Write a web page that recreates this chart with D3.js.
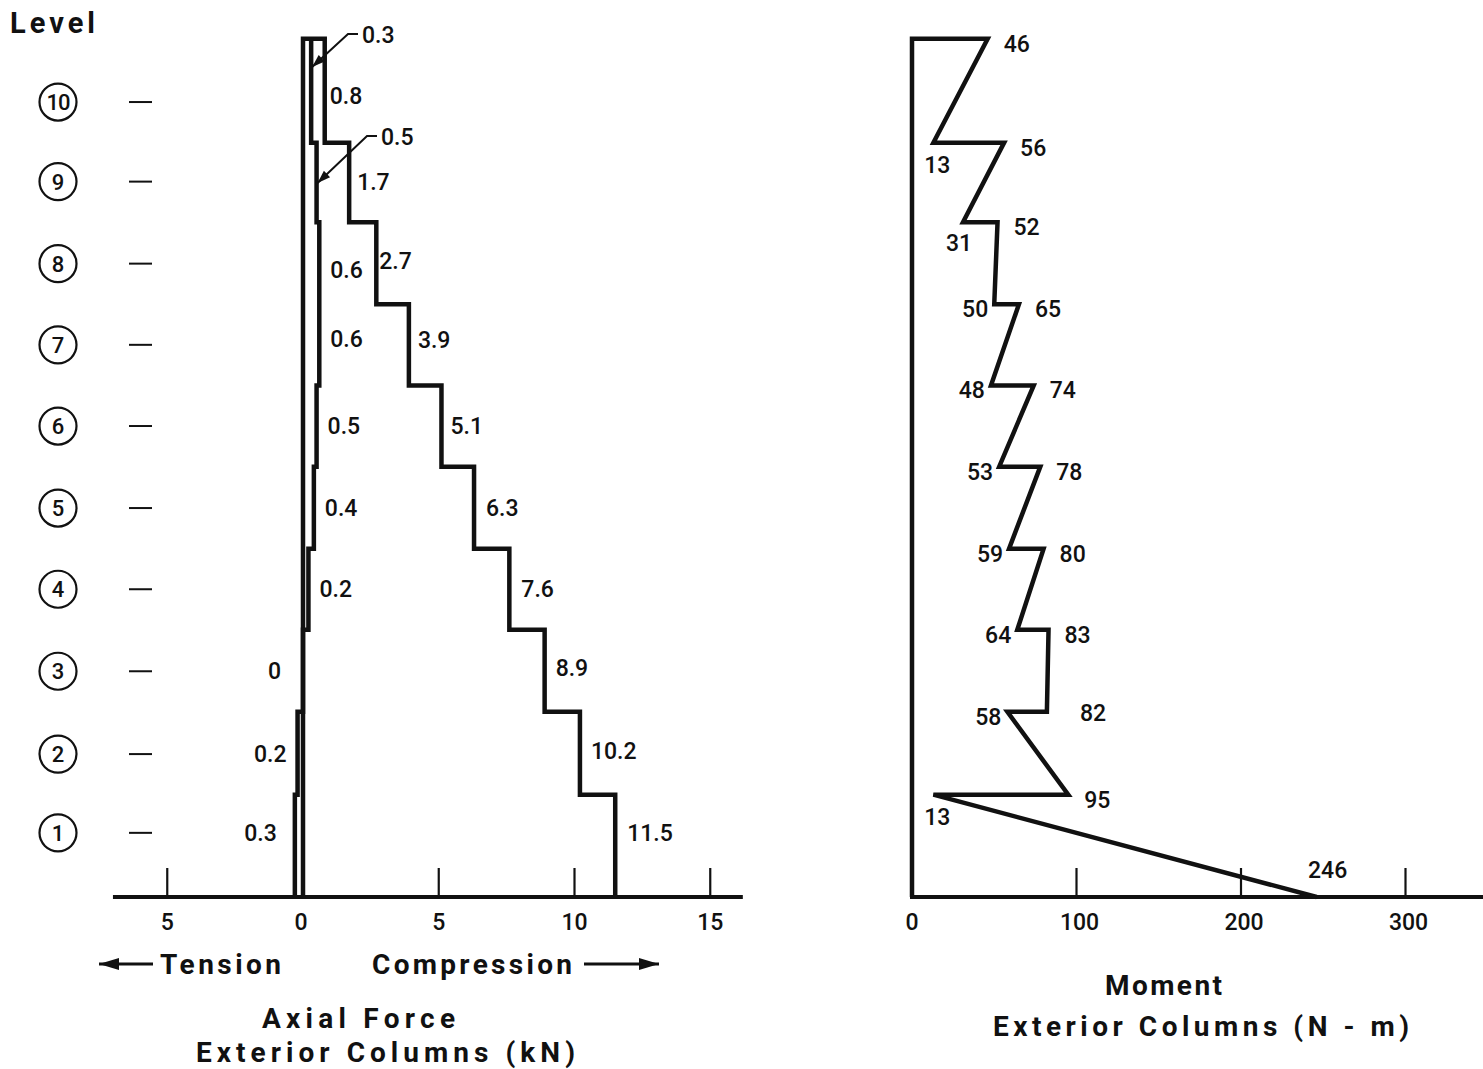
<!DOCTYPE html>
<html>
<head>
<meta charset="utf-8">
<script src="https://cdn.jsdelivr.net/npm/d3@7"></script>
<style>
  html, body { margin: 0; padding: 0; background: #fff; }
  svg { display: block; }
  text { font-family: Roboto, "Noto Sans", sans-serif; fill: #111; }
</style>
</head>
<body>
<svg id="chart" width="1483" height="1069"></svg>
<script>
// ---------------- DATA ----------------
// floor elevations (relative units), floor 0 = base, floor 10 = roof
const floorElev = [0, 1.26, 2.28, 3.29, 4.29, 5.30, 6.30, 7.30, 8.31, 9.29, 10.57];
const levels = [1, 2, 3, 4, 5, 6, 7, 8, 9, 10];

// Axial force in exterior columns (kN), storey 1..10
const compression    = [11.5, 10.2, 8.9, 7.6, 6.3, 5.1, 3.9, 2.7, 1.7, 0.8];
const minCompression = [0, 0, 0, 0.2, 0.4, 0.5, 0.6, 0.6, 0.5, 0.3];
const tension        = [-0.3, -0.2, 0, 0, 0, 0, 0, 0, 0, 0];

const compLabels  = ["11.5", "10.2", "8.9", "7.6", "6.3", "5.1", "3.9", "2.7", "1.7", "0.8"];
const minLabels   = ["", "", "", "0.2", "0.4", "0.5", "0.6", "0.6", "0.5", "0.3"];
const tensLabels  = ["0.3", "0.2", "0", "", "", "", "", "", "", ""];

const axialTicks      = [-5, 0, 5, 10, 15];
const axialTickLabels = ["5", "0", "5", "10", "15"];

// Moment in exterior columns (N-m): path vertices in drawing order
const momentFloor  = [0, 10, 10, 9, 9, 8, 8, 7, 7, 6, 6, 5, 5, 4, 4, 3, 3, 2, 2, 1, 1, 0];
const momentValue  = [0, 0, 46, 13, 56, 31, 52, 50, 65, 48, 74, 53, 78, 59, 80, 64, 83, 82, 58, 95, 13, 246];
const momentSide   = ["", "", "r", "b", "r", "bl", "r", "l", "r", "l", "r", "l", "r", "l", "r", "l", "r", "rr", "l", "r", "b", "a"];

const momentTicks = [0, 100, 200, 300];

// ---------------- DRAW ----------------
const svg = d3.select("#chart");
svg.append("rect").attr("width", 1483).attr("height", 1069).attr("fill", "#fff");

const y = d3.scaleLinear().domain([0, 10.57]).range([897, 38.7]);
const xA = d3.scaleLinear().domain([0, 15]).range([303, 303 + 15 * 27.15]);
const xM = d3.scaleLinear().domain([0, 300]).range([912, 912 + 300 * 1.645]);

const labelY = i => i === 1 ? y(floorElev[1] - 0.47) : y(floorElev[i - 1] + 0.5);

function title(x, yy, txt, len, size, weight) {
  return svg.append("text").attr("x", x).attr("y", yy).attr("font-size", size || 28)
    .attr("font-weight", weight || 700).attr("textLength", len).attr("lengthAdjust", "spacing").text(txt);
}

// Level header
title(10, 33, "Level", 85, 29, 700);

const lv = svg.append("g");
levels.forEach(l => {
  const cy = labelY(l);
  lv.append("circle").attr("cx", 58).attr("cy", cy).attr("r", 18.5)
    .attr("fill", "none").attr("stroke", "#111").attr("stroke-width", 2.2);
  lv.append("text").attr("x", 58).attr("y", cy + 8).attr("text-anchor", "middle")
    .attr("font-size", 22).attr("font-weight", 500).attr("letter-spacing", l === 10 ? -1 : 0).text(l);
  lv.append("line").attr("x1", 129).attr("x2", 152).attr("y1", cy).attr("y2", cy)
    .attr("stroke", "#111").attr("stroke-width", 2);
});

// Left axis
const axA = svg.append("g").attr("transform", "translate(0,897)");
axA.append("line").attr("x1", xA(-7)).attr("x2", xA(16.2)).attr("stroke", "#111").attr("stroke-width", 4);
axialTicks.forEach((t, i) => {
  if (t !== 0) axA.append("line").attr("x1", xA(t)).attr("x2", xA(t)).attr("y1", 0).attr("y2", -29)
    .attr("stroke", "#111").attr("stroke-width", 2.2);
  axA.append("text").attr("x", xA(t) - (t === 0 ? 2 : 0)).attr("y", 33).attr("text-anchor", "middle")
    .attr("font-size", 23).attr("font-weight", 500).text(axialTickLabels[i]);
});

// step path builder
function stepPath(vals) {
  const pts = [[vals[0], floorElev[0]]];
  vals.forEach((v, i) => {
    pts.push([v, floorElev[i]]);
    pts.push([v, floorElev[i + 1]]);
  });
  return pts;
}
const lineA = d3.line().x(d => xA(d[0])).y(d => y(d[1]));
const lineStyle = sel => sel.attr("fill", "none").attr("stroke", "#111").attr("stroke-width", 4.5)
  .attr("stroke-linejoin", "miter").attr("stroke-linecap", "butt");

// tension / zero line + top cap + compression envelope as one outline
const outline = stepPath(tension).concat(stepPath(compression).slice(1).reverse());
svg.append("path").attr("d", lineA(outline)).call(lineStyle);
svg.append("path").attr("d", lineA(stepPath(minCompression))).call(lineStyle);

// compression labels
const compDx = [12, 11, 11, 12, 12, 9, 9, 3, 8, 5];
const compDy = [0, -3, -3, 0, 0, 0, -5, -3, 0, -6];
const la = svg.append("g").attr("font-size", 23).attr("font-weight", 500);
levels.forEach((l, i) => {
  la.append("text").attr("x", xA(compression[i]) + compDx[i]).attr("y", labelY(l) + 8 + compDy[i])
    .text(compLabels[i]);
  if (minLabels[i] && l <= 8) {
    la.append("text").attr("x", xA(minCompression[i]) + 11).attr("y", labelY(l) + 8 + (l === 8 ? 6 : 0) - (l === 7 ? 6 : 0))
      .text(minLabels[i]);
  }
  if (tensLabels[i]) {
    la.append("text").attr("x", xA(tension[i]) - (l === 1 ? 18 : l === 2 ? 11 : 22)).attr("y", labelY(l) + 8)
      .attr("text-anchor", "end").text(tensLabels[i]);
  }
});

// leader annotations for storeys 9 and 10
function leader(val, storey, tx, ty, targetY) {
  const x0 = xA(val) + 1, y0 = targetY;
  const g = svg.append("g");
  g.append("path").attr("d", `M${tx - 4},${ty - 1} L${tx - 14},${ty - 1} L${x0},${y0}`)
    .attr("fill", "none").attr("stroke", "#111").attr("stroke-width", 2);
  const ang = Math.atan2(y0 - (ty - 1), x0 - (tx - 14));
  const L = 13, W = 4.5;
  const bx = x0 - L * Math.cos(ang), by = y0 - L * Math.sin(ang);
  g.append("path").attr("d",
    `M${x0},${y0} L${bx + W * Math.sin(ang)},${by - W * Math.cos(ang)} L${bx - W * Math.sin(ang)},${by + W * Math.cos(ang)} Z`)
    .attr("fill", "#111");
  la.append("text").attr("x", tx).attr("y", ty + 8).text(minLabels[storey - 1]);
}
leader(minCompression[9], 10, 362, 35, 67);
leader(minCompression[8], 9, 381, 137, 183);

// Tension / Compression arrows
function arrow(x1, x2, yy) {
  const g = svg.append("g");
  g.append("line").attr("x1", x1).attr("x2", x2).attr("y1", yy).attr("y2", yy)
    .attr("stroke", "#111").attr("stroke-width", 3);
  const dir = Math.sign(x2 - x1);
  g.append("path").attr("d", `M${x2},${yy} L${x2 - dir * 20},${yy - 6} L${x2 - dir * 20},${yy + 6} Z`).attr("fill", "#111");
}
title(160, 974, "Tension", 121);
arrow(153, 99, 964);
title(372, 974, "Compression", 200);
arrow(584, 659, 964);

title(262, 1028, "Axial Force", 193);
title(196, 1062, "Exterior Columns (kN)", 379);

// ---------------- Right chart ----------------
const axM = svg.append("g").attr("transform", "translate(0,897)");
axM.append("line").attr("x1", xM(0) - 2).attr("x2", 1483).attr("stroke", "#111").attr("stroke-width", 4);
momentTicks.forEach(t => {
  if (t !== 0) axM.append("line").attr("x1", xM(t)).attr("x2", xM(t)).attr("y1", 0).attr("y2", -29)
    .attr("stroke", "#111").attr("stroke-width", 2.2);
  axM.append("text").attr("x", xM(t) + (t === 0 ? 0 : 3)).attr("y", 33).attr("text-anchor", "middle")
    .attr("font-size", 23).attr("font-weight", 500).text(t);
});

const mPts = momentFloor.map((f, i) => [momentValue[i], floorElev[f]]);
const lineM = d3.line().x(d => xM(d[0])).y(d => y(d[1]));
svg.append("path").attr("d", lineM(mPts)).call(lineStyle);

const lm = svg.append("g").attr("font-size", 23).attr("font-weight", 500);
mPts.forEach((p, i) => {
  const s = momentSide[i];
  if (!s) return;
  const px = xM(p[0]), py = y(p[1]);
  let tx = px, ty = py + 13, anchor = "start";
  if (s === "r") { tx = px + 16; }
  else if (s === "rr") { tx = px + 33; ty = py + 9; }
  else if (s === "l") { tx = px - 6; anchor = "end"; }
  else if (s === "b") { tx = px + 4; ty = py + 30; anchor = "middle"; }
  else if (s === "bl") { tx = px - 4; ty = py + 29; anchor = "middle"; }
  else if (s === "a") { tx = px + 11; ty = py - 19; anchor = "middle"; }
  lm.append("text").attr("x", tx).attr("y", ty).attr("text-anchor", anchor).text(momentValue[i]);
});

title(1105, 995, "Moment", 117);
title(993, 1036, "Exterior Columns (N - m)", 416);
</script>
</body>
</html>
